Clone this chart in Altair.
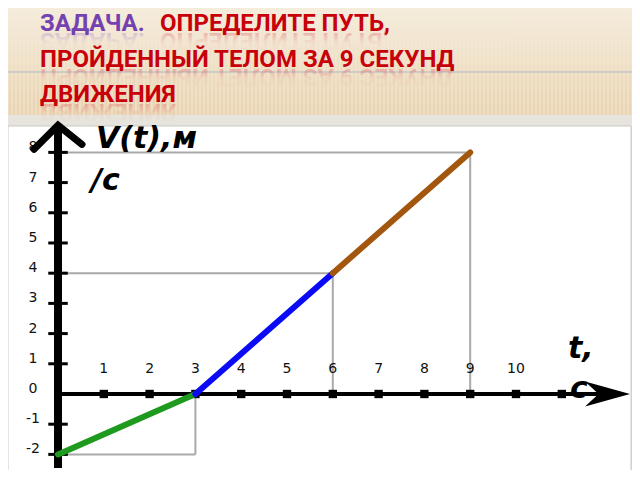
import altair as alt
import pandas as pd

# ---- data ----
t_pts = [0, 3, 6, 9]            # time, s
v_pts = [-2, 0, 4, 8]           # speed, m/s
seg_names = ["green", "blue", "brown"]
seg_colors = ["#1E9A1E", "#0A0AF5", "#A3560E"]

x_ticks = [1, 2, 3, 4, 5, 6, 7, 8, 9, 10, 11]
x_tick_labels = ["1", "2", "3", "4", "5", "6", "7", "8", "9", "10"]
y_ticks = [-2, -1, 1, 2, 3, 4, 5, 6, 7, 8]
y_tick_labels = ["-2", "-1", "0", "1", "2", "3", "4", "5", "6", "7", "8"]
y_label_vals = [-2, -1, 0, 1, 2, 3, 4, 5, 6, 7, 8]

title_texts = ["ЗАДАЧА.", "ОПРЕДЕЛИТЕ ПУТЬ,", "ПРОЙДЕННЫЙ ТЕЛОМ ЗА 9 СЕКУНД", "ДВИЖЕНИЯ"]

x_axis_end = 12.3
x_arrow_tip = 12.49
y_axis_top = 8.9
y_axis_bottom = -2.45

W, H = 624, 462
xs = alt.Scale(domain=[-1.092, 12.533], nice=False, zero=False)
ys = alt.Scale(domain=[-2.517, 12.781], nice=False, zero=False)

one = pd.DataFrame({"k": [0]})

# ---- tables built from the arrays ----
seg_rows = []
for i in range(len(seg_names)):
    seg_rows.append({"seg": seg_names[i], "o": 0, "t": t_pts[i], "v": v_pts[i]})
    seg_rows.append({"seg": seg_names[i], "o": 1, "t": t_pts[i + 1], "v": v_pts[i + 1]})
seg_df = pd.DataFrame(seg_rows)

guide_rows = []
for i in range(len(seg_names)):
    a, b = v_pts[i], v_pts[i + 1]
    v_far = a if abs(a) > abs(b) else b
    t_end = t_pts[i + 1]
    guide_rows.append({"t0": 0, "t1": t_end, "v0": v_far, "v1": v_far})
    guide_rows.append({"t0": t_end, "t1": t_end, "v0": v_far, "v1": 0})
guide_df = pd.DataFrame(guide_rows)

axes_df = pd.DataFrame({
    "t0": [0, 0], "t1": [x_axis_end, 0],
    "v0": [0, y_axis_bottom], "v1": [0, y_axis_top],
    "w": ["x", "y"],
})
xtick_df = pd.DataFrame({"t": x_ticks, "v": [0] * len(x_ticks)})
ytick_df = pd.DataFrame({"t": [0] * len(y_ticks), "v": y_ticks})
xlab_df = pd.DataFrame({"t": x_ticks[:len(x_tick_labels)], "v": [0] * len(x_tick_labels), "lab": x_tick_labels})
ylab_df = pd.DataFrame({"v": y_label_vals, "lab": y_tick_labels})
yarrow_df = pd.DataFrame({"t": [0], "v": [y_axis_top]})
xarrow_df = pd.DataFrame({"t": [x_arrow_tip], "v": [0]})

# ---- slide background ----
stripe_stops = []
n = 156
for k in range(n + 1):
    stripe_stops.append({"offset": k / n, "color": "#F2E3C9"})
    if k < n:
        stripe_stops.append({"offset": (k + 0.5) / n, "color": "#E2CAA4"})
stripe_fill = {"gradient": "linear", "x1": 0, "y1": 0, "x2": 1, "y2": 0, "stops": stripe_stops}
fade_fill = {"gradient": "linear", "x1": 0, "y1": 0, "x2": 0, "y2": 1, "stops": [
    {"offset": 0, "color": "rgba(245,236,220,1)"},
    {"offset": 0.35, "color": "rgba(243,232,213,0.85)"},
    {"offset": 1, "color": "rgba(241,227,204,0.15)"},
]}

beige = alt.Chart(one).mark_rect(fill=stripe_fill).encode(
    x=alt.value(0), x2=alt.value(W), y=alt.value(0), y2=alt.value(107))
fade = alt.Chart(one).mark_rect(fill=fade_fill).encode(
    x=alt.value(0), x2=alt.value(W), y=alt.value(0), y2=alt.value(107))
band = alt.Chart(one).mark_rect(color="#E6E4DC").encode(
    x=alt.value(0), x2=alt.value(W), y=alt.value(107), y2=alt.value(118))
white = alt.Chart(one).mark_rect(fill="white", stroke="#C9C9C4", strokeWidth=1).encode(
    x=alt.value(0), x2=alt.value(623), y=alt.value(118), y2=alt.value(H + 3))
hline = alt.Chart(one).mark_rule(color="#9FAFC6", strokeWidth=1, opacity=0.8).encode(
    x=alt.value(0), x2=alt.value(W), y=alt.value(64))

title_font = "Roboto, DejaVu Sans Condensed, sans-serif"
TS = 24
def ttl(txt, x, y, color):
    return alt.Chart(one).mark_text(
        text=txt, font=title_font, fontWeight="bold", fontSize=TS,
        align="left", baseline="alphabetic", color=color
    ).encode(x=alt.value(x), y=alt.value(y))

def refl(txt, x, y, rgb):
    grad = {"gradient": "linear", "x1": 0, "y1": 0, "x2": 0, "y2": 1, "stops": [
        {"offset": 0, "color": "rgba(%d,%d,%d,0)" % rgb},
        {"offset": 0.45, "color": "rgba(%d,%d,%d,0.05)" % rgb},
        {"offset": 1, "color": "rgba(%d,%d,%d,0.45)" % rgb},
    ]}
    return alt.Chart(one).mark_text(
        text=txt[::-1], font=title_font, fontWeight="bold", fontSize=TS,
        align="right", baseline="alphabetic", angle=180, fill=grad
    ).encode(x=alt.value(x), y=alt.value(y + 2))

purple, red = "#7442B0", "#C8000A"
prgb, rrgb = (150, 100, 200), (220, 60, 70)
title_pos = [(32, 23, purple, prgb), (152, 23, red, rrgb), (32, 59, red, rrgb), (32, 94, red, rrgb)]
reflections = [refl(t, p[0], p[1], p[3]) for t, p in zip(title_texts, title_pos)]
titles = [ttl(t, p[0], p[1], p[2]) for t, p in zip(title_texts, title_pos)]

# ---- chart ----
guides = alt.Chart(guide_df).mark_rule(color="#A9A9A9", strokeWidth=2).encode(
    x=alt.X("t0:Q", scale=xs, axis=None), x2="t1:Q",
    y=alt.Y("v0:Q", scale=ys, axis=None), y2="v1:Q")

axes = alt.Chart(axes_df).mark_rule(color="black").encode(
    x=alt.X("t0:Q", scale=xs, axis=None), x2="t1:Q",
    y=alt.Y("v0:Q", scale=ys, axis=None), y2="v1:Q",
    strokeWidth=alt.StrokeWidth("w:N", scale=alt.Scale(domain=["x", "y"], range=[4, 8]), legend=None))

xticks = alt.Chart(xtick_df).mark_point(shape="square", filled=True, size=70, color="black", opacity=1).encode(
    x=alt.X("t:Q", scale=xs, axis=None), y=alt.Y("v:Q", scale=ys, axis=None))
yticks = alt.Chart(ytick_df).mark_point(shape="M -1 0 L 1 0", filled=False, size=380,
                                        stroke="black", strokeWidth=3, opacity=1).encode(
    x=alt.X("t:Q", scale=xs, axis=None), y=alt.Y("v:Q", scale=ys, axis=None))

lines = alt.Chart(seg_df).mark_line(strokeWidth=6, strokeCap="round").encode(
    x=alt.X("t:Q", scale=xs, axis=None), y=alt.Y("v:Q", scale=ys, axis=None),
    color=alt.Color("seg:N", scale=alt.Scale(domain=seg_names, range=seg_colors), legend=None),
    order="o:Q")

xlabs = alt.Chart(xlab_df).mark_text(font="DejaVu Sans", fontSize=14, color="#111", dy=-25).encode(
    x=alt.X("t:Q", scale=xs, axis=None), y=alt.Y("v:Q", scale=ys, axis=None), text="lab:N")
ylabs = alt.Chart(ylab_df).mark_text(font="DejaVu Sans", fontSize=14, color="#111", dy=-5).encode(
    x=alt.value(25), y=alt.Y("v:Q", scale=ys, axis=None), text="lab:N")

yarrow = alt.Chart(yarrow_df).mark_point(shape="M -1 1 L 0 0 L 1 0.8", filled=False, size=2304,
                                         stroke="black", strokeWidth=7, opacity=1, strokeCap="round").encode(
    x=alt.X("t:Q", scale=xs, axis=None), y=alt.Y("v:Q", scale=ys, axis=None))
xarrow = alt.Chart(xarrow_df).mark_point(shape="M -1 -0.28 L 0 0 L -1 0.28 L -0.7 0 Z", filled=True,
                                         size=8100, color="black", opacity=1).encode(
    x=alt.X("t:Q", scale=xs, axis=None), y=alt.Y("v:Q", scale=ys, axis=None))

def lab(txt, x, y):
    return alt.Chart(one).mark_text(text=txt, font="DejaVu Sans", fontWeight="bold", fontStyle="italic",
                                    fontSize=30, align="left", baseline="alphabetic", color="black").encode(
        x=alt.value(x), y=alt.value(y))

labels = [lab("V(t),м", 88, 140), lab("/с", 83, 182), lab("t,", 560, 350), lab("с", 562, 390)]

chart = alt.layer(
    beige, fade, band, hline, *reflections, *titles, white,
    guides, axes, xticks, yticks, lines, xlabs, ylabs, yarrow, xarrow, *labels
).properties(
    width=W, height=H, padding=0, background="#DDDBD2",
    autosize=alt.AutoSizeParams(type="none")
).configure_view(stroke=None)

chart.save("out.html", embed_options={"renderer": "svg", "actions": False})
